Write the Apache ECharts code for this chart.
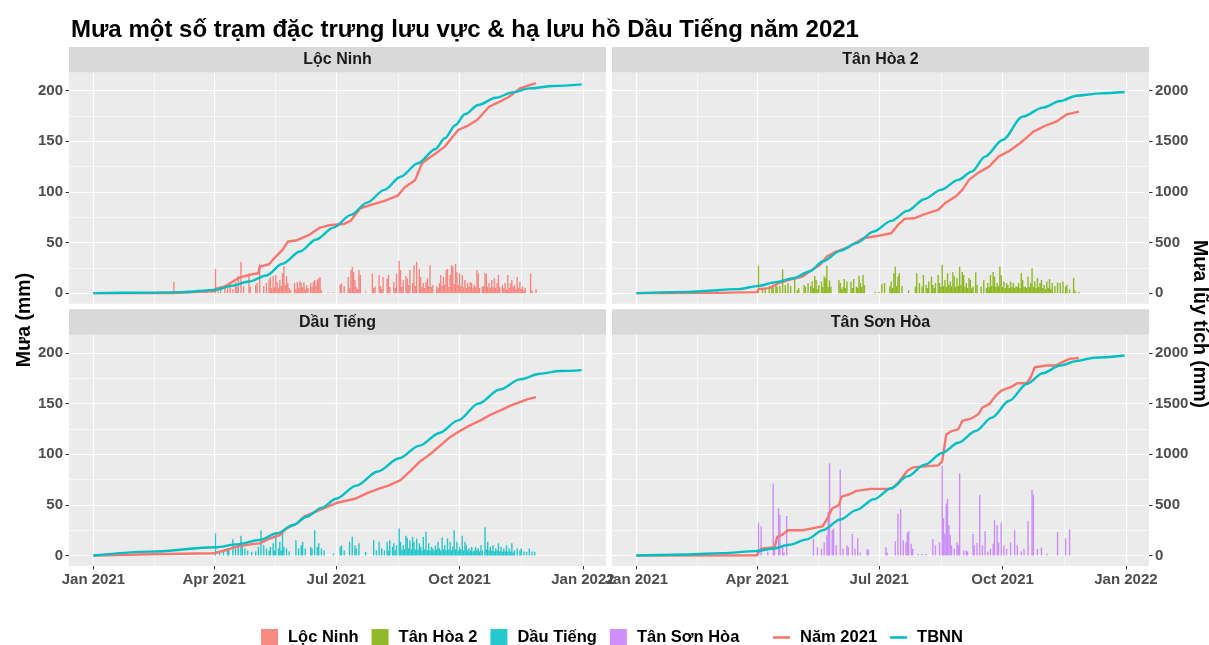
<!DOCTYPE html>
<html>
<head>
<meta charset="utf-8">
<title>Mưa một số trạm đặc trưng lưu vực & hạ lưu hồ Dầu Tiếng năm 2021</title>
<script src="https://cdn.jsdelivr.net/npm/echarts@6/dist/echarts.min.js"></script>
<style>
  html, body { margin: 0; padding: 0; background: #fff; }
  #chart { width: 1209px; height: 645px; }
</style>
</head>
<body>
<div id="chart"></div>
<script>
// x = days since 1 Jan 2021
const stations = ['Lộc Ninh', 'Tân Hòa 2', 'Dầu Tiếng', 'Tân Sơn Hòa']
const stationColors = ['#F8766D', '#7CAE00', '#00BFC4', '#C77CFF']
const tickDays = [0, 90, 181, 273, 365]
const tickLabels = ['Jan 2021', 'Apr 2021', 'Jul 2021', 'Oct 2021', 'Jan 2022']
const minorDays = [45, 135.5, 227, 319]
const rainTicks = [0, 50, 100, 150, 200]
const rainMinor = [25, 75, 125, 175]
const cumTicks = [0, 500, 1000, 1500, 2000]

// daily rain (mm): [day, value]
const locNinhRain = [[60,11],[91,24],[93,2],[95,3],[98,8],[100,6.5],[102,10],[104,4],[106,11],[107,6],[108,17],[110,31],[112,7],[116,19.5],[117,6.5],[121,8],[122,10],[124,29],[127,7],[129,10],[131,13.6],[132,16],[133,5],[134,17],[135,6],[136,18],[137,11],[138,5],[139,13],[140,7],[141,19.5],[142,26.6],[143,8],[144,17],[145,10],[146,5],[147,3],[150,10],[151,4],[152,11],[153,5],[154,12],[155,10],[156,6],[157,11],[158,4],[159,8],[160,5],[162,10],[163,6],[164,11],[165,13],[166,7],[167,13.6],[168,14.6],[169,16],[170,3],[175,1],[179,1],[184,8],[185,10],[187,7],[190,16],[191,5],[192,23],[193,26],[194,21],[195,13],[196,6],[197,4],[198,23],[199,18],[203,1.5],[208,19.5],[209,5],[210,6.5],[213,18],[214,7],[215,4],[216,16],[219,14.6],[220,18],[221,6],[224,11],[225,5],[226,19],[228,32],[229,23],[230,6],[231,13],[233,17],[234,14.6],[235,8],[236,23],[238,10],[239,27.6],[240,7],[241,31],[243,24],[244,16],[245,6],[246,10],[247,5],[248,11],[249,14.6],[250,7],[251,27.6],[252,6],[253,8],[256,6.5],[257,5],[258,10],[259,18],[260,7],[261,16],[262,8],[263,23],[264,24],[265,6],[266,18],[267,27.6],[268,26],[269,9],[270,29],[271,21],[272,8],[273,19.5],[274,7],[275,18],[276,6],[277,13],[278,5],[279,10],[280,6],[281,11],[282,10],[283,5],[284,8],[285,6],[286,23],[287,19.5],[288,5],[290,6.5],[291,7],[292,20],[293,19],[294,6],[295,10],[296,5],[297,13],[298,6],[299,14.6],[300,5],[301,10],[302,18],[303,6],[305,8],[306,5],[307,10],[308,4],[309,18],[310,5],[311,10],[312,13],[313,6],[314,8],[315,4],[316,16],[317,5],[318,11],[319,4],[320,6.5],[321,3],[322,5],[326,19.5],[327,3],[330,4]]
const tanHoaRain = [[60,3],[91,27],[94,4],[96,5],[99,7],[101,6.5],[102,8],[104,8],[105,6.5],[107,7],[109,23.7],[111,8],[113,10],[115,7],[118,15.8],[120,3],[121,5],[125,8],[126,6.5],[128,10],[130,7],[131,11.5],[132,5],[133,17],[134,13],[135,4],[136,8],[138,11.5],[139,6],[140,16.4],[141,15],[142,27],[143,6],[144,12.5],[145,6.5],[151,13],[152,10],[153,4],[154,6],[155,14],[156,5],[157,11.5],[160,11.5],[161,5],[162,14],[164,6.5],[165,5],[166,17],[167,10],[168,6],[169,18],[170,8],[178,1.5],[181,1.5],[183,9],[185,10],[189,6.5],[190,11.5],[191,5],[192,19.7],[193,26],[194,7],[195,16.4],[196,19.7],[198,7],[203,3],[208,6.5],[209,19.7],[211,10],[213,6.5],[214,18],[216,8],[217,5],[218,11.5],[220,16.4],[221,8],[222,5],[223,10],[225,18],[226,10],[227,6],[228,28],[229,7],[230,13],[231,6],[232,19.7],[233,8],[234,11.5],[235,7],[236,21],[237,16.4],[238,6],[239,15],[240,7],[241,26],[242,8],[243,21],[244,18],[245,6],[246,10],[247,5],[248,15],[249,13],[250,5],[251,6.5],[253,20.4],[254,8],[257,6.5],[259,13],[261,5],[262,10],[263,6],[264,18],[265,7],[266,21],[267,16.4],[268,6],[269,10],[270,7],[271,26],[272,18],[273,6],[274,11.5],[275,5],[276,10],[277,8],[278,5],[279,11.5],[280,6],[281,10],[282,5],[283,7],[284,6],[285,10],[286,5],[287,19.7],[288,13],[289,6],[290,6.5],[291,5],[292,16.4],[293,6],[294,10],[295,24.7],[296,6],[297,11.5],[298,5],[299,15],[300,6],[301,10],[302,13],[303,5],[304,8],[305,4],[306,11.5],[307,5],[308,14],[309,4],[310,10],[312,7],[314,10.5],[316,10],[318,11.5],[320,6.5],[321,8],[323,4],[326,15],[327,3],[330,1.5]]
const dauTiengRain = [[91,21.7],[94,3],[97,4],[100,5],[101,7],[104,16],[106,7],[108,10],[110,19.4],[111,8.5],[113,7],[115,5],[118,3.6],[121,4],[123,8.5],[125,25],[127,10],[129,7],[131,5],[132,8.5],[134,12],[135,5],[136,21.7],[138,7],[139,13.5],[140,5],[141,23.4],[142,8.5],[144,7],[146,4],[151,15],[153,7],[155,10],[156,13.5],[158,7],[162,8.5],[163,7],[165,25],[167,8.5],[168,12],[170,7],[172,5],[179,2],[184,8.5],[185,10],[187,5],[191,13.5],[193,18.4],[195,10],[196,7],[198,12],[203,3.6],[209,15],[211,5],[213,13.5],[215,7],[217,5],[219,13.5],[220,5],[221,15],[223,8.5],[224,12],[225,5],[226,10],[228,26.6],[229,13.5],[230,6],[231,10],[232,6],[233,19.4],[234,17.4],[235,7],[236,15],[237,6],[238,18.4],[239,13.5],[240,6],[241,16.8],[242,6],[243,12],[244,8.5],[245,5],[246,18.4],[247,6],[248,23.4],[249,5],[250,12],[251,5],[252,8.5],[253,7],[254,5],[255,10],[256,6],[257,13.5],[258,7],[259,5],[260,17.4],[261,6],[262,10],[263,5],[264,16.8],[265,6],[266,13.5],[267,5],[268,8.5],[269,25],[270,6],[271,13.5],[272,5],[273,8.5],[274,6],[275,19.4],[276,5],[277,13.5],[278,10],[279,5],[280,7],[281,5],[282,8.5],[283,4],[284,5],[285,8.5],[286,5],[287,7],[288,4],[289,10],[290,5],[292,28],[293,6],[294,13.5],[295,5],[296,8.5],[297,5],[298,10],[299,4],[300,7],[301,5],[302,12],[303,4],[304,8.5],[305,4],[306,7],[307,4],[308,10],[309,4],[310,7],[311,4],[312,12],[313,3],[314,5],[316,7],[318,5],[319,7],[321,4],[323,3.6],[325,7],[327,4],[329,3.6]]
const tanSonHoaRain = [[91,32.5],[93,28.8],[98,4],[102,71],[103,6.6],[106,47],[107,40],[109,10],[110,3],[112,39],[132,16.5],[135,8],[138,6.6],[140,13],[142,20.5],[143,43],[144,91],[146,25],[147,26.5],[149,10],[152,85],[154,6.6],[157,10],[158,8],[161,21.5],[163,6.6],[165,17],[167,3],[172,6],[173,6],[186,8],[187,3],[193,14],[195,41],[197,46],[199,15],[201,13],[202,22.5],[203,24],[205,11.6],[206,6.6],[210,1.6],[213,1.6],[216,1.6],[221,16],[223,10],[226,13],[228,89],[229,37],[230,21.5],[231,51],[232,56],[233,30],[234,20.5],[235,10],[237,6.6],[239,13],[240,10],[241,81],[244,5],[246,5],[247,4],[251,21.5],[252,10],[254,12.6],[256,60],[258,10],[260,24],[262,4],[264,6.6],[266,11.6],[267,35],[269,30],[270,13],[272,32.5],[274,10],[276,6.6],[279,13],[282,25],[284,10],[287,4],[289,6.6],[292,34],[295,65],[296,60],[299,6.6],[302,8],[306,1.6],[314,23],[320,17],[323,26]]

// cumulative rain 2021 (mm)
const locNinhCum = [[0,0],[59,2],[60,13],[90,18],[91,42],[98,66],[108,148],[116,181],[123,197],[124,263],[131,286],[136,362],[141,428],[145,510],[151,520],[161,576],[169,648],[177,674],[187,684],[192,717],[199,839],[207,872],[217,911],[227,964],[232,1043],[240,1119],[245,1283],[250,1332],[257,1398],[262,1448],[267,1530],[272,1612],[280,1661],[286,1711],[290,1767],[295,1842],[303,1892],[310,1941],[318,2023],[323,2046],[330,2076]]
const tanHoaCum = [[0,0],[60,3],[90,10],[91,40],[99,50],[106,99],[114,132],[124,165],[129,214],[137,280],[142,362],[149,411],[159,461],[169,543],[180,566],[190,592],[195,674],[200,734],[207,740],[215,780],[225,823],[230,888],[238,954],[243,1020],[248,1119],[255,1191],[263,1250],[270,1349],[278,1405],[286,1481],[291,1536],[296,1596],[306,1661],[313,1694],[321,1767],[330,1793]]
const dauTiengCum = [[0,0],[42,12],[90,22],[99,54],[107,87],[117,110],[124,120],[132,170],[139,202],[144,268],[152,318],[157,383],[181,518],[195,560],[205,620],[212,655],[220,690],[229,745],[236,830],[243,923],[251,1000],[259,1090],[265,1160],[272,1219],[280,1280],[289,1337],[296,1390],[304,1436],[311,1480],[318,1515],[324,1545],[330,1565]]
const tanSonHoaCum = [[0,0],[90,2],[91,35],[93,66],[103,83],[105,183],[109,206],[113,249],[124,249],[133,272],[139,289],[143,382],[146,465],[151,498],[153,581],[159,605],[164,638],[175,658],[190,658],[195,714],[202,837],[206,870],[215,880],[225,890],[228,930],[231,1196],[235,1229],[240,1246],[243,1329],[250,1355],[255,1395],[258,1462],[263,1495],[268,1578],[272,1628],[280,1668],[284,1701],[291,1701],[294,1761],[297,1860],[306,1877],[313,1877],[316,1900],[323,1943],[330,1950]]

// long-term average cumulative (TBNN, mm)
const locNinhAvg = [[0,0],[40,5],[66,10],[91,33],[103,72],[116,115],[129,175],[141,290],[154,411],[166,530],[179,648],[192,773],[204,895],[217,1020],[229,1150],[242,1283],[255,1425],[262,1530],[270,1661],[277,1767],[287,1859],[300,1931],[313,1985],[325,2023],[343,2046],[364,2063]]
const tanHoaAvg = [[0,0],[38,13],[76,40],[91,72],[104,109],[117,148],[129,214],[139,313],[152,418],[164,494],[177,609],[190,714],[202,813],[215,931],[227,1020],[240,1119],[250,1201],[260,1349],[273,1513],[288,1744],[303,1833],[316,1898],[328,1951],[346,1974],[364,1988]]
const dauTiengAvg = [[0,0],[42,38],[91,81],[107,110],[124,153],[137,219],[149,301],[159,383],[170,470],[181,560],[196,690],[212,830],[228,960],[243,1085],[258,1210],[272,1335],[287,1500],[303,1640],[318,1740],[333,1795],[348,1822],[364,1831]]
const tanSonHoaAvg = [[0,0],[38,10],[64,23],[89,43],[101,66],[114,106],[127,159],[139,249],[152,355],[164,448],[177,555],[190,664],[202,781],[215,897],[228,1013],[240,1113],[253,1229],[265,1362],[278,1528],[291,1694],[303,1800],[316,1877],[328,1920],[341,1953],[364,1975]]

const rainData = [locNinhRain, tanHoaRain, dauTiengRain, tanSonHoaRain]
const cumData = [locNinhCum, tanHoaCum, dauTiengCum, tanSonHoaCum]
const avgData = [locNinhAvg, tanHoaAvg, dauTiengAvg, tanSonHoaAvg]

const font = '"Liberation Sans", Arial, sans-serif'
const panels = [
  { left: 69, top: 72.5 },
  { left: 612, top: 72.5 },
  { left: 69, top: 334.8 },
  { left: 612, top: 334.8 }
]
const panelW = 537
const panelH = 231.2
const xMin = -18.2, xMax = 382.2
const yMin = -10.4, yMax = 218

const labelOf = {}
tickDays.forEach((d, k) => { labelOf[d] = tickLabels[k] })

const tickText = { color: '#4D4D4D', fontSize: 15, fontWeight: 'bold', fontFamily: font }

const chart = echarts.init(document.getElementById('chart'))

const grid = [], xAxis = [], yAxis = [], series = [], graphic = []
panels.forEach((p, i) => {
  grid.push({
    left: p.left, top: p.top, width: panelW, height: panelH,
    show: true, backgroundColor: '#EBEBEB', borderWidth: 0
  })
  const bottomRow = i >= 2
  const leftCol = i % 2 === 0
  xAxis.push({
    type: 'value', gridIndex: i, min: xMin, max: xMax,
    axisLine: { show: false, onZero: false },
    axisTick: { show: bottomRow, customValues: tickDays, length: 3.5, lineStyle: { color: '#333333', width: 1 } },
    axisLabel: Object.assign({ show: bottomRow, customValues: tickDays, margin: 6, formatter: v => labelOf[v] || '' }, tickText),
    splitLine: { show: true, lineStyle: { color: '#FFFFFF', width: 1.2 } }
  })
  yAxis.push({
    type: 'value', gridIndex: i, min: yMin, max: yMax, position: 'left',
    axisLine: { show: false, onZero: false },
    axisTick: { show: leftCol, customValues: rainTicks, length: 3.5, lineStyle: { color: '#333333', width: 1 } },
    axisLabel: Object.assign({ show: leftCol, customValues: rainTicks, margin: 6, formatter: v => String(v) }, tickText),
    splitLine: { show: true, lineStyle: { color: '#FFFFFF', width: 1.2 } }
  })
  yAxis.push({
    type: 'value', gridIndex: i, min: yMin * 10, max: yMax * 10, position: 'right',
    axisLine: { show: false, onZero: false },
    axisTick: { show: !leftCol, customValues: cumTicks, length: 3.5, lineStyle: { color: '#333333', width: 1 } },
    axisLabel: Object.assign({ show: !leftCol, customValues: cumTicks, margin: 6, formatter: v => String(v) }, tickText),
    splitLine: { show: false }
  })
  yAxis.push({
    type: 'value', gridIndex: i, min: yMin, max: yMax, position: 'left',
    axisLine: { show: false, onZero: false },
    axisTick: { show: false, customValues: rainMinor },
    axisLabel: { show: false },
    splitLine: { show: true, lineStyle: { color: '#FFFFFF', width: 0.6 } }
  })

  // facet strip
  graphic.push({
    type: 'rect', silent: true,
    shape: { x: p.left, y: p.top - 25.5, width: panelW, height: 25.5 },
    style: { fill: '#D9D9D9' }
  })
  graphic.push({
    type: 'text', silent: true,
    x: p.left + panelW / 2, y: p.top - 12.5,
    style: { text: stations[i], fill: '#1A1A1A', font: 'bold 16px ' + font, textAlign: 'center', textVerticalAlign: 'middle' }
  })
})
// minor x grid lines
panels.forEach((p, i) => {
  xAxis.push({
    type: 'value', gridIndex: i, min: xMin, max: xMax,
    axisLine: { show: false, onZero: false },
    axisTick: { show: false, customValues: minorDays },
    axisLabel: { show: false },
    splitLine: { show: true, lineStyle: { color: '#FFFFFF', width: 0.6 } }
  })
})

panels.forEach((p, i) => {
  series.push({
    type: 'bar', name: stations[i], xAxisIndex: i, yAxisIndex: 3 * i,
    data: rainData[i], barWidth: 1.4, silent: true,
    itemStyle: { color: stationColors[i], opacity: 0.85 }
  })
})
panels.forEach((p, i) => {
  series.push({
    type: 'line', name: 'Năm 2021', xAxisIndex: i, yAxisIndex: 3 * i + 1,
    data: cumData[i], showSymbol: false, silent: true,
    itemStyle: { color: '#F8766D' },
    lineStyle: { color: '#F8766D', width: 2.4 }
  })
  series.push({
    type: 'line', name: 'TBNN', xAxisIndex: i, yAxisIndex: 3 * i + 1,
    data: avgData[i], showSymbol: false, silent: true,
    smooth: 0.3, smoothMonotone: 'x',
    itemStyle: { color: '#00BFC4' },
    lineStyle: { color: '#00BFC4', width: 2.4 }
  })
})

graphic.push({
  type: 'text', silent: true, x: 25, y: 320, rotation: Math.PI / 2,
  style: { text: 'Mưa (mm)', fill: '#000', font: 'bold 19.5px ' + font, textAlign: 'center', textVerticalAlign: 'middle' }
})
graphic.push({
  type: 'text', silent: true, x: 1199, y: 324, rotation: -Math.PI / 2,
  style: { text: 'Mưa lũy tích (mm)', fill: '#000', font: 'bold 19.5px ' + font, textAlign: 'center', textVerticalAlign: 'middle' }
})

const legendText = { fontSize: 16.5, fontWeight: 'bold', color: '#000', fontFamily: font, padding: [0, 0, 0, 5] }
const lineIcon = 'path://M0,0H17V2.6H0Z'

const option = {
  animation: false,
  backgroundColor: '#FFFFFF',
  title: {
    text: 'Mưa một số trạm đặc trưng lưu vực & hạ lưu hồ Dầu Tiếng năm 2021',
    left: 66, top: 13,
    textStyle: { fontSize: 24, fontWeight: 'bold', color: '#000', fontFamily: font }
  },
  legend: [
    {
      data: stations.map(s => ({ name: s, icon: 'rect' })),
      left: 256, top: 624, orient: 'horizontal',
      itemWidth: 17, itemHeight: 17, itemGap: 13,
      selectedMode: false, textStyle: legendText
    },
    {
      data: [{ name: 'Năm 2021', icon: lineIcon }, { name: 'TBNN', icon: lineIcon }],
      left: 768, top: 624, orient: 'horizontal',
      itemWidth: 17, itemHeight: 17, itemGap: 13,
      selectedMode: false, textStyle: legendText
    }
  ],
  grid: grid,
  xAxis: xAxis,
  yAxis: yAxis,
  graphic: graphic,
  series: series
}
chart.setOption(option)
</script>
</body>
</html>
